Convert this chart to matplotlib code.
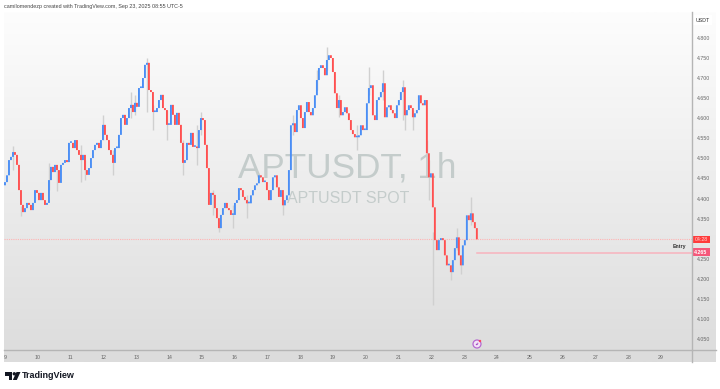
#APTUSDT 1h chart
import numpy as np
import matplotlib
matplotlib.use('Agg')
import matplotlib.pyplot as plt
from matplotlib.patches import Rectangle, Polygon, Circle

plt.rcParams['font.family'] = ['Liberation Sans', 'DejaVu Sans']

first_day = 9
hours_per_candle = 1.463
first_close = 4.433

closes = [4.441,4.458,4.496,4.504,4.516,4.509,4.484,4.421,4.384,4.366,4.376,4.389,4.384,4.371,4.389,4.421,4.414,4.396,4.414,4.396,
          4.384,4.389,4.446,4.479,4.466,4.484,4.471,4.439,4.484,4.489,4.496,4.491,4.539,4.539,4.526,4.546,4.521,4.509,4.496,4.509,
          4.471,4.459,4.476,4.501,4.521,4.534,4.539,4.526,4.546,4.584,4.559,4.546,4.521,4.509,4.489,4.526,4.526,4.559,4.601,4.609,
          4.584,4.601,4.626,4.634,4.616,4.639,4.629,4.676,4.676,4.701,4.734,4.739,4.671,4.666,4.616,4.616,4.626,4.646,4.659,4.626,
          4.621,4.584,4.584,4.634,4.609,4.584,4.614,4.584,4.539,4.489,4.496,4.539,4.534,4.564,4.529,4.529,4.526,4.571,4.601,4.596,
          4.534,4.476,4.384,4.414,4.409,4.376,4.351,4.326,4.359,4.376,4.389,4.376,4.371,4.359,4.359,4.389,4.396,4.426,
          4.421,4.404,4.396,4.388,4.388,4.408,4.421,4.433,4.438,4.458,4.453,4.441,4.441,4.421,4.396,4.421,4.453,4.458,4.428,4.404,
          4.421,4.383,4.396,4.408,4.471,4.583,4.588,4.566,4.621,4.633,4.601,4.576,4.616,4.641,4.616,4.608,4.626,4.658,4.696,4.726,
          4.733,4.726,4.708,4.746,4.758,4.751,4.716,4.663,4.626,4.646,4.608,4.616,4.628,4.613,4.596,4.571,4.561,4.553,4.553,4.558,
          4.583,4.571,4.571,4.638,4.676,4.683,4.608,4.596,4.646,4.653,4.666,4.688,4.603,4.628,4.633,4.621,4.613,4.601,4.633,4.646,
          4.666,4.678,4.608,4.621,4.633,4.626,4.603,4.613,4.621,4.658,4.638,4.633,4.646,4.513,4.453,4.463,4.378,4.296,4.271,4.296,
          4.301,4.296,4.258,4.233,4.233,4.216,4.246,4.276,4.303,4.258,4.233,4.283,4.296,4.358,4.346,4.363,4.341,4.326,4.298]

wick_idx  = [4,8,22,26,38,40,49,54,63,65,71,74,81,89,96,98,104,107,114,121,139,144,156,161,167,176,182,189,199,200,204,211,212,214,223,226,228,233]
wick_high = [4.531,4.381,4.488,4.471,4.533,4.496,4.608,4.521,4.666,4.658,4.751,4.633,4.621,4.546,4.583,4.616,4.421,4.341,4.383,4.408,4.403,4.608,4.721,4.778,4.658,4.583,4.728,4.721,4.696,4.621,4.621,4.546,4.496,4.316,4.233,4.326,4.251,4.403]
wick_low  = [4.471,4.356,4.421,4.418,4.441,4.446,4.546,4.458,4.601,4.608,4.616,4.571,4.546,4.458,4.483,4.558,4.358,4.316,4.326,4.351,4.358,4.558,4.671,4.721,4.603,4.521,4.658,4.646,4.596,4.571,4.571,4.458,4.396,4.133,4.196,4.271,4.211,4.333]

# 4.300 sits under the countdown label in the reference
price_ticks = [4.05,4.10,4.15,4.20,4.25,4.35,4.40,4.45,4.50,4.55,4.60,4.65,4.70,4.75,4.80]
day_ticks = list(range(9,30))
last_price = 4.298
entry_price = 4.265
entry_start_day = 23.4

fig = plt.figure(figsize=(7.2,3.89),dpi=100,facecolor='white')
W,H = 720,389

def box(l,t,r,b):
    return [l/W,1-b/H,(r-l)/W,(b-t)/H]

# gradient background
bg = fig.add_axes(box(4,12,716,362),zorder=0)
bg.imshow(np.linspace(0,1,256).reshape(-1,1),cmap=matplotlib.colors.LinearSegmentedColormap.from_list('g',['#fdfdfd','#dcdcdc']),aspect='auto')
bg.axis('off')

ax = fig.add_axes(box(4,12,692,350),zorder=1)
ax.patch.set_alpha(0)
ax.set_xlim(8.97,29.945)
ax.set_ylim(4.0215,4.866)

ax.text(19.43,4.476,'APTUSDT, 1h',fontsize=25.3,color='#c4cccb',ha='center',va='center',zorder=1)
ax.text(19.46,4.401,'APTUSDT SPOT',fontsize=11.5,color='#c4cccb',ha='center',va='center',zorder=1)

x = first_day+np.arange(len(closes))*hours_per_candle/24
step = hours_per_candle/24
opens = [first_close]+closes[:-1]
colors = ['#4a8ef5' if c>=o else '#ff5050' for o,c in zip(opens,closes)]
bottoms = [min(o,c) for o,c in zip(opens,closes)]
heights = [max(abs(c-o),0.004) for o,c in zip(opens,closes)]

ax.vlines(x[wick_idx],wick_low,wick_high,color='#d0d0d0',lw=1,zorder=2)
bars = ax.bar(x,heights,bottom=bottoms,width=step*0.95,color=colors,linewidth=0,zorder=3)
for b in bars:
    b.set_snap(False)

ax.axhline(last_price+0.002,color='#ffb4b4',lw=0.8,ls=(0,(1,1)),zorder=1)
ax.plot([entry_start_day,29.945],[entry_price,entry_price],color='#f7b3bd',lw=1.1,zorder=1)
ax.text(29.78,entry_price+0.008,'Entry',fontsize=3.8,fontweight='bold',color='#333333',ha='right',va='bottom')

ax.yaxis.tick_right()
ax.set_yticks(price_ticks)
ax.set_yticklabels(['%.3f'%p for p in price_ticks],fontsize=3.8,color='#666666')
ax.set_xticks(day_ticks)
ax.set_xticklabels([str(d) for d in day_ticks],fontsize=3.8,color='#666666')
ax.tick_params(length=0,pad=3.5)
for s in ax.spines.values():
    s.set_visible(False)

# page chrome in pixel coordinates
top = fig.add_axes([0,0,1,1],zorder=2)
top.set_xlim(0,W)
top.set_ylim(H,0)
top.axis('off')
top.plot([692,692],[12,362],color='#b5b5b5',lw=1)
top.plot([4,716],[350,350],color='#b5b5b5',lw=1)
top.text(4,6.5,'camilomendezp created with TradingView.com, Sep 23, 2025 08:55 UTC-5',fontsize=3.85,color='#444444',va='center')
top.add_patch(Rectangle((693,15),19,10,fc='white',ec='none'))
top.text(702.5,20,'USDT',fontsize=3.8,color='#333333',ha='center',va='center')
top.add_patch(Rectangle((692,235.5),18,7.5,fc='#ff3b3b',ec='none'))
top.text(701,239.3,'04:28',fontsize=3.8,color='#ffd9d9',ha='center',va='center')
top.add_patch(Rectangle((692,248),18,8,fc='#f5587a',ec='none'))
top.text(701,252,'4.265',fontsize=3.8,fontweight='bold',color='white',ha='center',va='center')

# alert icon
top.add_patch(Circle((477,344),4,fc='#f3e3f7',ec='#b66ad0',lw=0.9))
top.add_patch(Polygon([[478.5,341.5],[475.5,345],[477,345],[475.5,346.8],[478.7,343.5],[477.2,343.5]],fc='#a040c0',ec='none'))
top.add_patch(Circle((480,341),1.2,fc='#ff4060',ec='none'))

# logo
top.add_patch(Polygon([[5,372],[12,372],[12,380],[8.5,380],[8.5,375.5],[5,375.5]],fc='#131722',ec='none'))
top.add_patch(Circle((14.3,373.8),1.7,fc='#131722',ec='none'))
top.add_patch(Polygon([[16.5,372],[20.5,372],[16.8,380],[12.8,380]],fc='#131722',ec='none'))
top.text(22,376,'TradingView',fontsize=6.5,fontweight='bold',color='#131722',va='center')

fig.savefig('out.png',dpi=100)
